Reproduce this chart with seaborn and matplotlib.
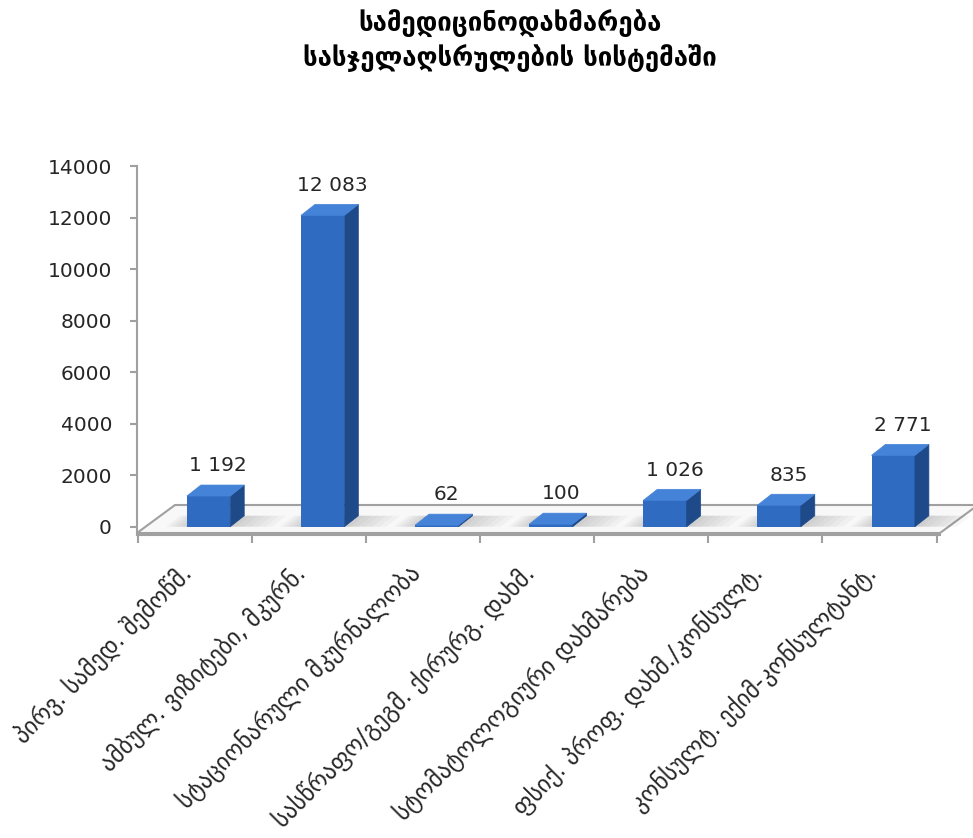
import numpy as np
import pandas as pd
import matplotlib
matplotlib.use("Agg")
import matplotlib.pyplot as plt
import seaborn as sns
from matplotlib.patches import Polygon

# ---------------- data ----------------
categories = [
    "პირვ. სამედ. შემოწმ.",
    "ამბულ. ვიზიტები, მკურნ.",
    "სტაციონარული მკურნალობა",
    "სასწრაფო/გეგმ. ქირურგ. დახმ.",
    "სტომატოლოგიური დახმარება",
    "ფსიქ. პროფ. დახმ./კონსულტ.",
    "კონსულტ. ექიმ-კონსულტანტ.",
]
values = [1192, 12083, 62, 100, 1026, 835, 2771]
yticks = [0, 2000, 4000, 6000, 8000, 10000, 12000, 14000]
title_lines = ["სამედიცინოდახმარება", "სასჯელაღსრულების სისტემაში"]

# ---------------- style ----------------
sns.set_theme(style="white")
plt.rcParams['font.family'] = ['DejaVu Sans']

FRONT = "#2F6CC1"
TOP = "#4583D8"
SIDE = "#1E4A8A"
AXIS = "#A0A0A0"
TXT = "#262626"

W, H = 973, 838
fig = plt.figure(figsize=(W / 100, H / 100), dpi=100)
ax_l, ax_r, ax_t, ax_b = 137, 940, 166, 535
ax = fig.add_axes([ax_l / W, (H - ax_b) / H, (ax_r - ax_l) / W, (ax_b - ax_t) / H])

df = pd.DataFrame({"cat": categories, "val": values})
sns.barplot(data=df, x="cat", y="val", color=FRONT, saturation=1, width=0.38,
            ax=ax, zorder=4, edgecolor="none")

xlim = (-0.627, 6.41)
ylim = (-320, 14000)
ax.set_xlim(*xlim)
ax.set_ylim(*ylim)
ax.set_xlabel("")
ax.set_ylabel("")

pxx = (ax_r - ax_l) / (xlim[1] - xlim[0])   # pixels per x unit
pxy = (ax_b - ax_t) / (ylim[1] - ylim[0])   # pixels per y unit

# 3D depth offsets of bars
dx = 14 / pxx
dy = 11 / pxy

# floor (decorative)
yf = ylim[0] + 2 / pxy
yb = yf + 28 / pxy
sx = 38 / pxx
floor = Polygon([(xlim[0], yf), (xlim[1], yf), (xlim[1] + sx, yb), (xlim[0] + sx, yb)],
                closed=True, facecolor="#F8F8F8", edgecolor=AXIS, lw=1.5,
                zorder=1, clip_on=False)
ax.add_patch(floor)

# 3D faces & shadows computed from the seaborn bars
for bar, v in zip(ax.patches[:len(values)], values):
    x0 = bar.get_x()
    w = bar.get_width()
    x1 = x0 + w
    h = bar.get_height()
    # soft shadow on floor
    for k in range(6):
        ext = (k + 1) * 7 / pxx
        sh = Polygon([(x0 - ext * 0.5, 0), (x1 + ext, 0), (x1 + ext + dx, dy), (x0 - ext * 0.5 + dx, dy)],
                     closed=True, facecolor="#808080", alpha=0.06, edgecolor="none",
                     zorder=2, clip_on=False)
        ax.add_patch(sh)
    top = Polygon([(x0, h), (x1, h), (x1 + dx, h + dy), (x0 + dx, h + dy)],
                  closed=True, facecolor=TOP, edgecolor=TOP, lw=0.5, zorder=5, clip_on=False)
    side = Polygon([(x1, 0), (x1 + dx, dy), (x1 + dx, h + dy), (x1, h)],
                   closed=True, facecolor=SIDE, edgecolor=SIDE, lw=0.5, zorder=5, clip_on=False)
    ax.add_patch(side)
    ax.add_patch(top)
    lab = f"{v:,}".replace(",", " ")
    ax.annotate(lab, (x0 + w / 2 + dx * 0.7, h + dy), xytext=(0, 7), textcoords="offset points",
                ha="center", va="bottom", fontsize=14.5, color=TXT, zorder=6)

# axes styling
for s in ["top", "right"]:
    ax.spines[s].set_visible(False)
for s in ["left", "bottom"]:
    ax.spines[s].set_color(AXIS)
    ax.spines[s].set_linewidth(1.5)
    ax.spines[s].set_zorder(0.5)

ax.set_yticks(yticks)
ax.set_yticklabels([str(t) for t in yticks])
ax.tick_params(axis="y", which="major", length=5, width=1.5, color=AXIS,
               labelsize=14.5, labelcolor=TXT, pad=13, left=True)

pos = np.arange(len(categories))
ax.set_xticks(pos - 0.26)
ax.set_xticklabels(categories, rotation=45, ha="right", rotation_mode="anchor",
                   fontsize=17, color=TXT)
ax.set_xticks(np.arange(len(categories) + 1) - 0.62, minor=True)
ax.tick_params(axis="x", which="major", length=0, pad=18, bottom=True)
ax.tick_params(axis="x", which="minor", length=6, width=1.5, color=AXIS, bottom=True)

ax.patch.set_alpha(0)

fig.text(510 / W, 1 - 24 / H, title_lines[0], ha="center", va="center",
         fontsize=18.5, fontweight="bold", color="black")
fig.text(510 / W, 1 - 58 / H, title_lines[1], ha="center", va="center",
         fontsize=18.5, fontweight="bold", color="black")

fig.savefig("out.png", dpi=100, facecolor="white")
